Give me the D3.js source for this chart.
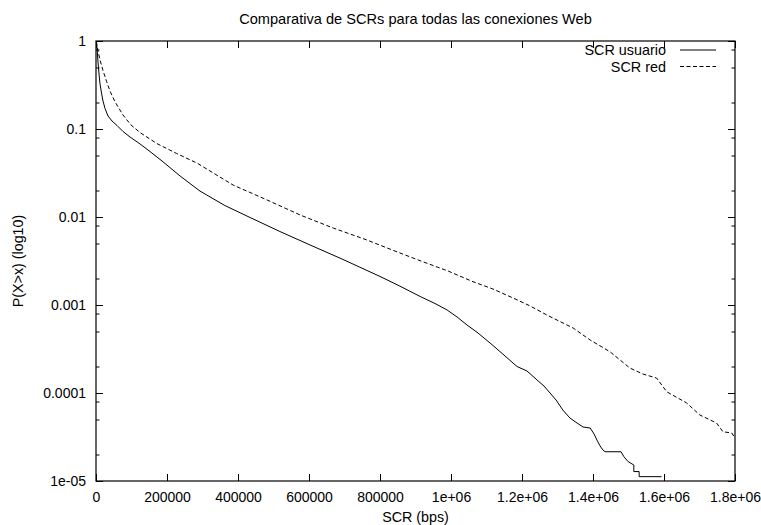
<!DOCTYPE html>
<html>
<head>
<meta charset="utf-8">
<script src="https://cdn.jsdelivr.net/npm/d3@7"></script>
<style>
  html, body { margin: 0; padding: 0; background: #fff; }
  svg { display: block; }
  text { font-family: "Liberation Sans", Arial, Helvetica, sans-serif; fill: #000; }
</style>
</head>
<body>
<script>
// ---- data ----
const titleText = "Comparativa de SCRs para todas las conexiones Web";
const xLabel = "SCR (bps)";
const yLabel = "P(X>x) (log10)";
const seriesNames = ["SCR usuario", "SCR red"];

const xTickValues = [0, 200000, 400000, 600000, 800000, 1000000, 1200000, 1400000, 1600000, 1800000];
const xTickLabels = ["0", "200000", "400000", "600000", "800000", "1e+06", "1.2e+06", "1.4e+06", "1.6e+06", "1.8e+06"];
const yTickValues = [1, 0.1, 0.01, 0.001, 0.0001, 0.00001];
const yTickLabels = ["1", "0.1", "0.01", "0.001", "0.0001", "1e-05"];
const yMinorMultipliers = [2, 5, 8];

const usuarioX = [800, 2300, 3700, 5600, 8500, 11300, 15500, 19700, 25400, 33800, 45100, 59200, 76100, 95800,
  124000, 152000, 186000, 237000, 293000, 363000, 434000, 518000, 603000, 693000, 800000, 856000, 913000,
  955000, 989000, 1017000, 1045000, 1076000, 1110000, 1146000, 1186000, 1214000, 1242000, 1262000, 1279000,
  1296000, 1315000, 1335000, 1355000, 1372000, 1392000, 1403000, 1411000, 1420000, 1428000, 1434000, 1479000,
  1487000, 1499000, 1515000, 1515000, 1530000, 1530000, 1593000];
const usuarioP = [0.974, 0.877, 0.750, 0.577, 0.422, 0.325, 0.2565, 0.208, 0.171, 0.1406, 0.1233, 0.1096, 0.0937, 0.0811,
  0.0676, 0.0555, 0.0433, 0.0292, 0.0197, 0.0135, 0.00987, 0.00684, 0.00481, 0.00333, 0.00211, 0.00164, 0.00125,
  0.00104, 0.000878, 0.000731, 0.000593, 0.000481, 0.00037, 0.000277, 0.0002, 0.000178, 0.000141, 0.00012, 0.0001,
  8.32e-5, 6.41e-5, 5.2e-5, 4.56e-5, 4.11e-5, 4.0e-5, 3.42e-5, 2.92e-5, 2.5e-5, 2.25e-5, 2.15e-5, 2.15e-5,
  1.89e-5, 1.66e-5, 1.52e-5, 1.28e-5, 1.28e-5, 1.12e-5, 1.12e-5];

const redX = [800, 3700, 7000, 11300, 19700, 30100, 39400, 53500, 76100, 98600, 124000, 171000, 227000, 284000,
  386000, 482000, 575000, 668000, 763000, 856000, 921000, 992000, 1062000, 1118000, 1175000, 1223000, 1270000,
  1344000, 1392000, 1448000, 1504000, 1541000, 1579000, 1608000, 1664000, 1701000, 1748000, 1766000, 1791000, 1800000];
const redP = [0.987, 0.855, 0.731, 0.608, 0.462, 0.345, 0.270, 0.204, 0.144, 0.111, 0.0912, 0.0685, 0.0527, 0.0411,
  0.0231, 0.0156, 0.01054, 0.0075, 0.00548, 0.0039, 0.0031, 0.00243, 0.00184, 0.00152, 0.0012, 0.000975, 0.000769,
  0.000548, 0.0004, 0.000294, 0.000192, 0.000164, 0.000148, 0.000103, 7.7e-5, 5.62e-5, 4.56e-5, 3.63e-5, 3.51e-5, 3.08e-5];

// ---- layout ----
const W = 761, H = 525;
const L = 96, R = 735, T = 41, B = 481;
const majorLen = 7, minorLen = 3.5;
const fontSize = 14;

const svg = d3.select("body").append("svg").attr("width", W).attr("height", H);

const x = d3.scaleLinear().domain([0, 1800000]).range([L, R]);
const y = d3.scaleLog().domain([0.00001, 1]).range([B, T]);

svg.append("defs").append("clipPath").attr("id", "clip")
  .append("rect").attr("x", L).attr("y", T).attr("width", R - L).attr("height", B - T);

const yMinor = [];
yTickValues.forEach(v => { if (v < 1) yMinorMultipliers.forEach(m => yMinor.push(v * m)); });

const fmtX = (d, i) => xTickLabels[i];
const fmtY = (d, i) => yTickLabels[i];

const axStyle = g => {
  g.select(".domain").remove();
  g.selectAll("line").attr("stroke", "#000").attr("stroke-width", 1);
  g.selectAll("text").attr("font-size", fontSize).attr("font-family", "Liberation Sans, Arial, sans-serif").attr("fill", "#000");
};

svg.append("g").attr("transform", `translate(0,${B})`)
  .call(d3.axisBottom(x).tickValues(xTickValues).tickFormat(fmtX).tickSizeInner(-majorLen).tickSizeOuter(0))
  .call(axStyle)
  .call(g => g.selectAll("text").attr("dy", null).attr("y", 20.5));
svg.append("g").attr("transform", `translate(0,${T})`)
  .call(d3.axisTop(x).tickValues(xTickValues).tickFormat("").tickSizeInner(-majorLen).tickSizeOuter(0))
  .call(axStyle);
svg.append("g").attr("transform", `translate(${L},0)`)
  .call(d3.axisLeft(y).tickValues(yTickValues).tickFormat(fmtY).tickSizeInner(-majorLen).tickSizeOuter(0))
  .call(axStyle)
  .call(g => g.selectAll("text").attr("x", -10).attr("dy", "0.35em"));
svg.append("g").attr("transform", `translate(${L},0)`)
  .call(d3.axisLeft(y).tickValues(yMinor).tickFormat("").tickSizeInner(-minorLen).tickSizeOuter(0))
  .call(axStyle);
svg.append("g").attr("transform", `translate(${R},0)`)
  .call(d3.axisRight(y).tickValues(yTickValues).tickFormat("").tickSizeInner(-majorLen).tickSizeOuter(0))
  .call(axStyle);
svg.append("g").attr("transform", `translate(${R},0)`)
  .call(d3.axisRight(y).tickValues(yMinor).tickFormat("").tickSizeInner(-minorLen).tickSizeOuter(0))
  .call(axStyle);

svg.append("rect").attr("x", L).attr("y", T).attr("width", R - L).attr("height", B - T)
  .attr("fill", "none").attr("stroke", "#000").attr("stroke-width", 1.2);

const line = d3.line().x(d => x(d[0])).y(d => y(d[1]));
const usuario = usuarioX.map((v, i) => [v, usuarioP[i]]);
const red = redX.map((v, i) => [v, redP[i]]);
const gLines = svg.append("g").attr("clip-path", "url(#clip)");
gLines.append("path").datum(usuario).attr("d", line)
  .attr("fill", "none").attr("stroke", "#000").attr("stroke-width", 1);
gLines.append("path").datum(red).attr("d", line)
  .attr("fill", "none").attr("stroke", "#000").attr("stroke-width", 1).attr("stroke-dasharray", "4,2.5");

svg.append("text").attr("x", (L + R) / 2).attr("y", 24).attr("text-anchor", "middle")
  .attr("font-size", 14.6).text(titleText);
svg.append("text").attr("x", (L + R) / 2).attr("y", 522).attr("text-anchor", "middle")
  .attr("font-size", 14.3).text(xLabel);
svg.append("text").attr("transform", `translate(23,${(T + B) / 2}) rotate(-90)`).attr("text-anchor", "middle")
  .attr("font-size", 14.3).text(yLabel);

const legY = [50, 66.5];
const legend = svg.append("g");
seriesNames.forEach((name, i) => {
  legend.append("text").attr("x", 666).attr("y", legY[i] + 5).attr("text-anchor", "end")
    .attr("font-size", 14.4).text(name);
  legend.append("line").attr("x1", 680).attr("x2", 716).attr("y1", legY[i]).attr("y2", legY[i])
    .attr("stroke", "#000").attr("stroke-width", 1)
    .attr("stroke-dasharray", i === 1 ? "4,2.5" : null);
});
</script>
</body>
</html>
